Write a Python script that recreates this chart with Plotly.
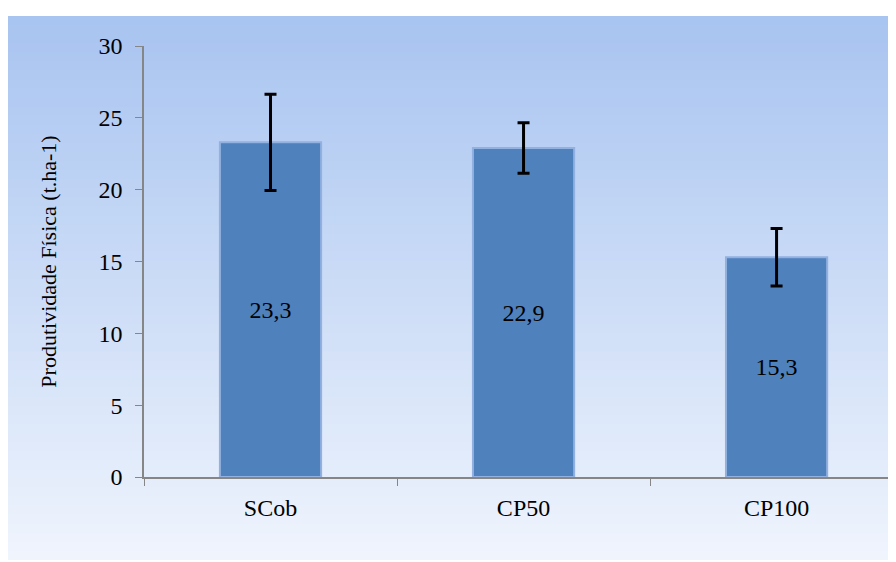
import plotly.graph_objects as go

categorias = ["SCob", "CP50", "CP100"]
produtividade = [23.3, 22.9, 15.3]
erro = [3.35, 1.75, 2.0]
rotulos = ["23,3", "22,9", "15,3"]

fonte = "Liberation Serif"

fig = go.Figure()

fig.add_trace(go.Bar(
    x=categorias,
    y=produtividade,
    width=0.4,
    text=rotulos,
    textposition="inside",
    insidetextanchor="middle",
    textangle=0,
    textfont=dict(family=fonte, size=24, color="black"),
    marker=dict(color="#4f81bd", line=dict(color="#93b1e0", width=2)),
    error_y=dict(type="data", array=erro, visible=True,
                 color="black", thickness=3, width=6),
    showlegend=False,
))

# fundo em degradê (faixas horizontais)
topo = (168, 196, 240)
base = (239, 244, 253)
n = 60
y0, y1 = -0.1926, 1.0696
for i in range(n):
    t = i / (n - 1)
    c = tuple(round(topo[k] + (base[k] - topo[k]) * t) for k in range(3))
    ya = y1 - (y1 - y0) * i / n
    yb = y1 - (y1 - y0) * (i + 1) / n
    if i < n - 1:
        yb -= 0.005
    fig.add_shape(type="rect", xref="paper", yref="paper",
                  x0=-0.181, x1=1.0, y0=yb, y1=ya,
                  fillcolor="rgb(%d,%d,%d)" % c, line=dict(width=0),
                  layer="below")

fig.update_layout(
    width=888, height=554,
    margin=dict(l=136, r=0, t=38, b=85),
    paper_bgcolor="white",
    plot_bgcolor="rgba(0,0,0,0)",
    font=dict(family=fonte, size=24, color="black"),
    xaxis=dict(
        range=[-0.5, 2.472],
        showline=True, linecolor="#868686", linewidth=1.5,
        ticks="outside", tickson="boundaries", ticklen=7, tickcolor="#868686",
        showgrid=False, zeroline=False,
        ticklabelstandoff=8,
        tickfont=dict(family=fonte, size=24),
    ),
    yaxis=dict(
        range=[0, 30], dtick=5,
        showline=True, linecolor="#868686", linewidth=1.5,
        ticks="outside", ticklen=7, tickcolor="#868686",
        showgrid=False, zeroline=False,
        ticklabelstandoff=8,
        tickfont=dict(family=fonte, size=24),
        title=dict(text="Produtividade Física (t.ha-1)",
                   font=dict(family=fonte, size=22), standoff=36),
    ),
)

fig.write_html("out.html")
